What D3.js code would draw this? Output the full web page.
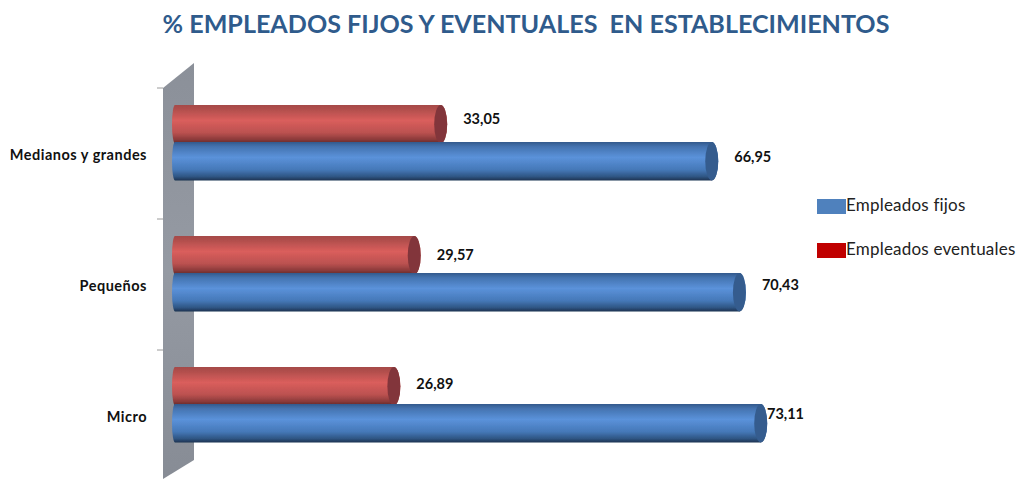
<!DOCTYPE html>
<html>
<head>
<meta charset="utf-8">
<script src="https://cdn.jsdelivr.net/npm/d3@7"></script>
<style>
  html, body { margin: 0; padding: 0; background: #fff; }
  svg { display: block; font-family: Lato, "Open Sans", sans-serif; }
</style>
</head>
<body>
<svg id="chart" width="1017" height="479"></svg>
<script>
// Chart data
var categories = ["Medianos y grandes", "Pequeños", "Micro"];
var fijos = [66.95, 70.43, 73.11];
var eventuales = [33.05, 29.57, 26.89];
var legendNames = ["Empleados fijos", "Empleados eventuales"];
var titleText = "% EMPLEADOS FIJOS Y EVENTUALES  EN ESTABLECIMIENTOS";

var svg = d3.select("#chart");
var wallLeft = 163, wallRight = 194, barStart = 172, barH = 38.5, capRx = 6.5;

// 3D perspective makes each series run on its own scale
var xFijos = d3.scaleLinear().domain([0, 100]).range([186, 981]);
var xEventuales = d3.scaleLinear().domain([0, 100]).range([196, 956]);
var y = d3.scaleBand().domain(categories).range([90, 483]);

var fmt = function (v) { return v.toFixed(2).replace(".", ","); };

//** Vertical cylinder shading */
function addGradient(defs, id, stops) {
    var g = defs.append("linearGradient").attr("id", id)
        .attr("x1", 0).attr("y1", 0).attr("x2", 0).attr("y2", 1);
    stops.forEach(function (s) {
        g.append("stop").attr("offset", s[0]).attr("stop-color", s[1]);
    });
}
var defs = svg.append("defs");
addGradient(defs, "gradRed", [[0, "#a54a48"], [0.12, "#b24f4d"], [0.4, "#da5e5c"], [0.72, "#bb5150"], [0.9, "#8a3a3a"], [1, "#5e2526"]]);
addGradient(defs, "gradBlue", [[0, "#33598c"], [0.12, "#4473b0"], [0.4, "#5b92da"], [0.72, "#4578b8"], [0.9, "#2f5583"], [1, "#1b3150"]]);
addGradient(defs, "gradWall", [[0, "#8b9099"], [0.5, "#959aa3"], [1, "#878c95"]]);
defs.append("filter").attr("id", "soft")
    .append("feGaussianBlur").attr("stdDeviation", 0.5);

// Title
svg.append("text")
    .attr("x", 526).attr("y", 33)
    .attr("text-anchor", "middle")
    .attr("font-size", 25.1).attr("font-weight", 700)
    .attr("fill", "#2f5b8c")
    .attr("xml:space", "preserve")
    .style("white-space", "pre")
    .text(titleText);

// Side wall
svg.append("path")
    .attr("d", "M" + wallLeft + ",88L" + wallRight + ",63L" + wallRight + ",460L" + wallLeft + ",479Z")
    .attr("fill", "url(#gradWall)")
    .attr("filter", "url(#soft)");

// Tick marks on the band edges
svg.selectAll("line.tick")
    .data(categories)
    .enter().append("line")
    .attr("class", "tick")
    .attr("x1", wallLeft - 6).attr("x2", wallLeft)
    .attr("y1", function (d) { return y(d) - 2; })
    .attr("y2", function (d) { return y(d) - 2; })
    .attr("stroke", "#9a9a9a");

// Category labels
var axis = svg.append("g")
    .attr("transform", "translate(147,0)")
    .call(d3.axisLeft(y).tickSize(0).tickPadding(0));
axis.select(".domain").remove();
axis.selectAll("text")
    .attr("font-family", "Lato, sans-serif")
    .attr("font-size", 14.5).attr("font-weight", 700).attr("fill", "#111")
    .style("letter-spacing", "0.5px");

function barPath(end, top) {
    var bottom = top + barH, r = barH / 2;
    return "M" + (barStart + 3) + "," + top +
        "L" + (end - capRx) + "," + top +
        "A" + capRx + "," + r + " 0 0 1 " + (end - capRx) + "," + bottom +
        "L" + (barStart + 3) + "," + bottom +
        "A3," + r + " 0 0 1 " + (barStart + 3) + "," + top + "Z";
}

//** Draw one series of cylinders */
function drawSeries(values, x, topOffset, grad, capColor, nudge) {
    var g = svg.append("g").attr("filter", "url(#soft)");
    g.selectAll("path.bar")
        .data(values)
        .enter().append("path")
        .attr("class", "bar")
        .attr("d", function (d, i) { return barPath(x(d), y(categories[i]) + topOffset); })
        .attr("fill", "url(#" + grad + ")");
    g.selectAll("ellipse.cap")
        .data(values)
        .enter().append("ellipse")
        .attr("class", "cap")
        .attr("cx", function (d) { return x(d) - capRx; })
        .attr("cy", function (d, i) { return y(categories[i]) + topOffset + barH / 2; })
        .attr("rx", capRx).attr("ry", barH / 2)
        .attr("fill", capColor);
    svg.selectAll("text.val" + grad)
        .data(values)
        .enter().append("text")
        .attr("class", "val" + grad)
        .attr("x", function (d) { return Math.min(x(d) + 16, 767); })
        .attr("y", function (d, i) { return y(categories[i]) + topOffset + barH / 2 + nudge[i] + 5; })
        .attr("font-size", 14.5).attr("font-weight", 700).attr("fill", "#111")
        .text(fmt);
}

drawSeries(eventuales, xEventuales, 15, "gradRed", "#82363a", [-5, 0, -2]);
drawSeries(fijos, xFijos, 52, "gradBlue", "#345c8e", [-4, -7, -9]);

// Legend
var legendColors = ["#4f81bd", "#c00000"];
var legendY = d3.scalePoint().domain(legendNames).range([206, 250]);
var legend = svg.selectAll("g.legend")
    .data(legendNames)
    .enter().append("g")
    .attr("class", "legend")
    .attr("transform", function (d) { return "translate(817," + legendY(d) + ")"; });
legend.append("rect")
    .attr("x", 0).attr("y", -7)
    .attr("width", 29).attr("height", 15)
    .attr("fill", function (d, i) { return legendColors[i]; });
legend.append("text")
    .attr("x", 29).attr("y", 5)
    .attr("font-size", 17).attr("fill", "#222")
    .style("letter-spacing", "0.2px")
    .text(function (d) { return d; });
</script>
</body>
</html>
